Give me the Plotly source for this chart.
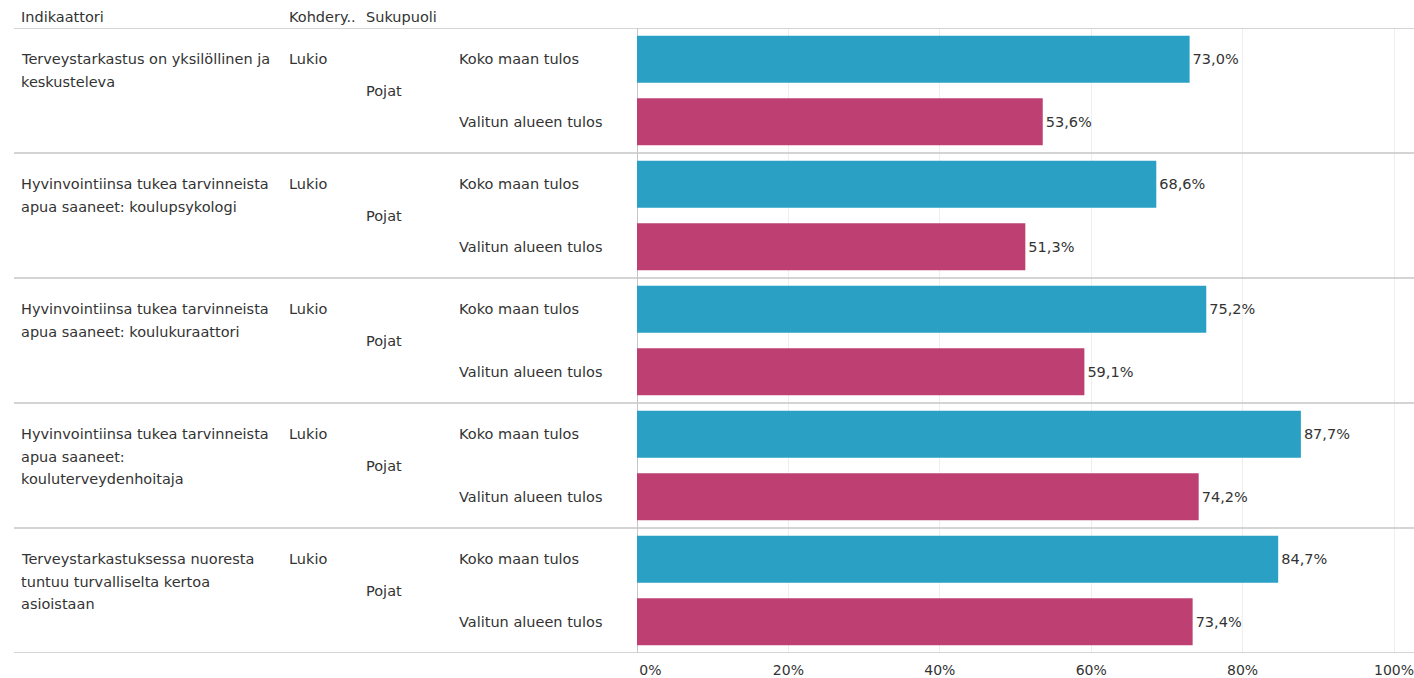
import plotly.graph_objects as go

# ---------------- data ----------------
indicator_lines = [
    ["Terveystarkastus on yksilöllinen ja", "keskusteleva"],
    ["Hyvinvointiinsa tukea tarvinneista", "apua saaneet: koulupsykologi"],
    ["Hyvinvointiinsa tukea tarvinneista", "apua saaneet: koulukuraattori"],
    ["Hyvinvointiinsa tukea tarvinneista", "apua saaneet:", "kouluterveydenhoitaja"],
    ["Terveystarkastuksessa nuoresta", "tuntuu turvalliselta kertoa", "asioistaan"],
]
target_group = ["Lukio", "Lukio", "Lukio", "Lukio", "Lukio"]
gender = ["Pojat", "Pojat", "Pojat", "Pojat", "Pojat"]
series_names = ["Koko maan tulos", "Valitun alueen tulos"]
national = [73.0, 68.6, 75.2, 87.7, 84.7]
regional = [53.6, 51.3, 59.1, 74.2, 73.4]
header_labels = ["Indikaattori", "Kohdery..", "Sukupuoli"]
x_tick_values = [0, 20, 40, 60, 80, 100]
x_tick_labels = ["0%", "20%", "40%", "60%", "80%", "100%"]

# ---------------- style ----------------
W, H = 1414, 678
FONT = "DejaVu Sans"
FS = 14.5
TXT = "#333333"
BLUE = "#2aa0c4"
PINK = "#be4073"
LINE = "#c6c6c6"

def px(x):
    return x / W

n = len(national)
cats = [f"{i}|{s}" for i in range(n) for s in series_names]
cat_index = {c: k for k, c in enumerate(cats)}

fig = go.Figure()
for s, vals, col in [(series_names[0], national, BLUE), (series_names[1], regional, PINK)]:
    fig.add_trace(go.Bar(
        orientation="h",
        x=vals,
        y=[f"{i}|{s}" for i in range(n)],
        width=0.75,
        marker=dict(color=col, line=dict(width=0)),
        texttemplate="%{x:.1f}%",
        textposition="outside",
        textfont=dict(family=FONT, size=FS, color=TXT),
        cliponaxis=False,
        hoverinfo="skip",
        showlegend=False,
    ))

def ann(text, x, y, yref="y", yshift=0):
    return dict(text=text, xref="paper", yref=yref, x=px(x), y=y, xshift=-2,
                yshift=yshift, xanchor="left", yanchor="middle", showarrow=False,
                font=dict(family=FONT, size=FS, color=TXT))

annotations = []
for lab, xp in zip(header_labels, [21, 289, 366]):
    annotations.append(ann(lab, xp, 1, yref="paper", yshift=11))
for i in range(n):
    ky = cat_index[f"{i}|{series_names[0]}"]
    vy = cat_index[f"{i}|{series_names[1]}"]
    for j, line in enumerate(indicator_lines[i]):
        annotations.append(ann(line, 21, ky, yshift=-22.5 * j))
    annotations.append(ann(target_group[i], 289, ky))
    annotations.append(ann(gender[i], 366, (ky + vy) / 2))
    annotations.append(ann(series_names[0], 459, ky))
    annotations.append(ann(series_names[1], 459, vy))

shapes = []
for k in range(0, len(cats) + 1, 2):
    shapes.append(dict(type="line", xref="paper", yref="y", x0=px(14), x1=1,
                       y0=k - 0.5, y1=k - 0.5, line=dict(color=LINE, width=1.5)))

ticktext = [("\u00a0" * 6 + t) if v == 0 else t for v, t in zip(x_tick_values, x_tick_labels)]

x0px, x100px = 637, 1394
xmax = 100 * (W - x0px) / (x100px - x0px)

fig.update_layout(
    width=W, height=H,
    margin=dict(l=0, r=0, t=28, b=25, pad=0),
    paper_bgcolor="white", plot_bgcolor="white",
    barmode="overlay",
    separators=", ",
    annotations=annotations,
    shapes=shapes,
    xaxis=dict(domain=[px(x0px), 1], range=[0, xmax], tickvals=x_tick_values,
               ticktext=ticktext, showgrid=True, gridcolor="#eeeeee", gridwidth=1,
               zeroline=True, zerolinecolor=LINE, zerolinewidth=1,
               ticks="outside", ticklen=4, tickcolor="rgba(0,0,0,0)",
               ticklabeloverflow="allow",
               tickfont=dict(family=FONT, size=FS - 0.5, color=TXT), fixedrange=True,
               automargin=False),
    yaxis=dict(type="category", categoryorder="array", categoryarray=cats,
               range=[len(cats) - 0.5, -0.5], showticklabels=False, showgrid=False,
               zeroline=False, fixedrange=True, automargin=False),
)

fig.write_html("out.html", config={"displayModeBar": False},
               post_script="document.body.style.margin='0';document.body.style.overflow='hidden';")
